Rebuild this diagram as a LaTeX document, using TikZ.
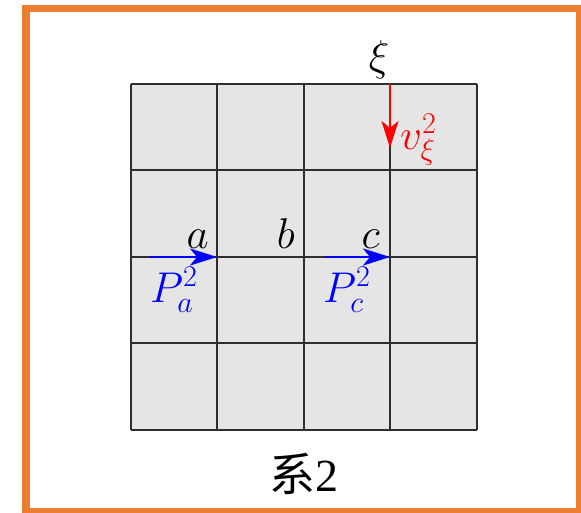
\RequirePackage{fix-cm}
\documentclass[tikz,border=0pt]{standalone}
\usepackage{fontspec}
\newfontfamily\cjkfont{Noto Sans CJK SC}
\newfontfamily\timesfont{Liberation Serif}
\usetikzlibrary{arrows.meta}
\definecolor{frameorange}{HTML}{ED7D31}
\definecolor{cellgray}{HTML}{E5E5E5}
\definecolor{gridline}{HTML}{2E2E2E}
\begin{document}
\begin{tikzpicture}[x=1pt,y=-1pt,
  lbl/.style={inner sep=0pt,font=\fontsize{43}{50}\selectfont},
  flow/.style={line width=2.4pt,-{Stealth[length=27pt,width=17pt,inset=7pt]}},
  gridrule/.style={gridline,line width=1.4pt}
]
\useasboundingbox (0,0) rectangle (581,512);
\draw[frameorange,line width=7.5pt] (26,8.5) rectangle (580,512);
\fill[cellgray] (131,84) rectangle (477,430);
\foreach \gx in {131,217,304,390,477} {
  \draw[gridrule] (\gx,84) -- (\gx,430);
}
\foreach \gy in {84,170,257,343,430} {
  \draw[gridrule] (131,\gy) -- (477,\gy);
}
\coordinate (top) at (390,84);
\coordinate (vend) at (390,148);
\coordinate (a) at (217,257);
\coordinate (pa) at (150,257);
\coordinate (b) at (304,257);
\coordinate (c) at (390,257);
\coordinate (pc) at (325,257);
\draw[flow,blue] (pa) -- (a);
\draw[flow,blue] (pc) -- (c);
\draw[flow,red,line width=2pt] (top) -- (vend);
\node[lbl,anchor=base east] (la) at (209,248) {$a$};
\node[lbl,anchor=base east] (lb) at (295,248) {$b$};
\node[lbl,anchor=base east] (lc) at (380,248) {$c$};
\node[lbl,anchor=base west,blue] (lpa) at (150,302) {$P_a^2$};
\node[lbl,anchor=base west,blue] (lpc) at (323,302) {$P_c^2$};
\node[lbl,red,anchor=west] (lv) at (400,140) {$v_\xi^2$};
\node[lbl] (xi) at (379,60) {$\xi$};
\node[inner sep=0pt,anchor=base] (sys) at (304,491) {\fontsize{46}{52}\selectfont{\cjkfont 系}{\timesfont 2}};
\end{tikzpicture}
\end{document}
